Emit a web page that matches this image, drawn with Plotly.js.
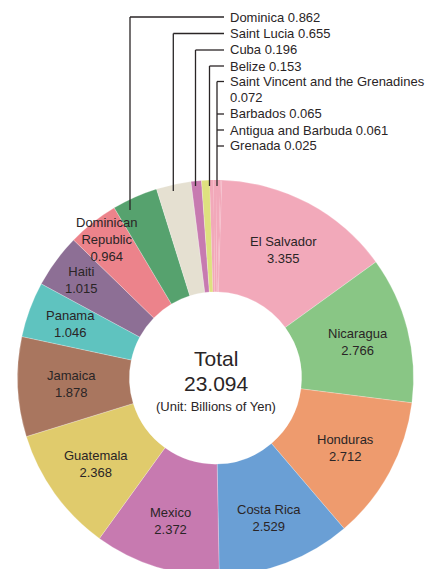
<!DOCTYPE html>
<html>
<head>
<meta charset="utf-8">
<script src="https://cdn.plot.ly/plotly-3.0.1.min.js"></script>
<style>
html,body{margin:0;padding:0;background:#fff;overflow:hidden;}
#chart{width:440px;height:580px;}
</style>
</head>
<body>
<div id="chart"></div>
<script>
// ---- data ----
var categories = ["El Salvador","Nicaragua","Honduras","Costa Rica","Mexico","Guatemala","Jamaica","Panama","Haiti","Dominican Republic","Dominica","Saint Lucia","Cuba","Belize","Saint Vincent and the Grenadines","Barbados","Antigua and Barbuda","Grenada"];
var values = [3.355,2.766,2.712,2.529,2.372,2.368,1.878,1.046,1.015,0.964,0.862,0.655,0.196,0.153,0.072,0.065,0.061,0.025];
var insideNames = ["El Salvador","Nicaragua","Honduras","Costa Rica","Mexico","Guatemala","Jamaica","Panama","Haiti","Dominican<br>Republic","","","","","","","",""];
var totalText = "23.094";
var calloutNames = ["Dominica","Saint Lucia","Cuba","Belize"];
var groupNames = ["Saint Vincent and the Grenadines","Barbados","Antigua and Barbuda","Grenada"];

// ---- style / layout settings ----
var colors = ["#F2A9BA","#89C685","#EE9B6E","#6A9FD5","#C77AB0","#E0CB6C","#A9765F","#5FC3BF","#8D6F95","#EC838B","#56A26E","#E5E0D1","#C77AB0","#DEE17F","#F2A9BA","#F2A9BA","#F2A9BA","#F2A9BA"];
var lineWidths = [0.4,0.4,0.4,0.4,0.4,0.4,0.4,0.4,0.4,0.4,0.4,0.4,0.4,0.4,0,0,0,0];
var labelRadius = [145,147,148,150,150,147,144,155,166,176,0,0,0,0,0,0,0,0];
var W = 440, H = 580;
var CX = 215.5, CY = 378, R = 198, ROT = 1.8;
function px(x){return x/W;}
function py(y){return (H-y)/H;}
var font = "Liberation Sans, Arial, sans-serif";
var ink = "#2a2526";

var trace = {
  type: "pie",
  labels: categories,
  values: values,
  sort: false,
  direction: "clockwise",
  rotation: ROT,
  hole: 0.435,
  textinfo: "none",
  marker: {colors: colors, line: {color: "rgba(255,255,255,0.6)", width: lineWidths}},
  domain: {x: [px(CX - R), px(CX + R)], y: [py(CY + R), py(CY - R)]},
  showlegend: false,
  hoverinfo: "label+value"
};

var annotations = [
  {text: "Total", x: px(216), y: py(358), font: {size: 21}},
  {text: totalText, x: px(216), y: py(383), font: {size: 21}},
  {text: "(Unit: Billions of Yen)", x: px(216), y: py(406), font: {size: 13}}
];
annotations.forEach(function(a){ a.xref="paper"; a.yref="paper"; a.showarrow=false; a.xanchor="center"; a.yanchor="middle"; a.font.family=font; a.font.color=ink; });

// slice labels at the mid angle of each slice
var total = values.reduce(function(s,v){return s+v;},0);
var cum = 0;
values.forEach(function(v,i){
  var mid = (cum + v/2) / total * 360 + ROT;
  cum += v;
  if (!insideNames[i]) return;
  var a = mid * Math.PI / 180;
  var r = labelRadius[i];
  annotations.push({
    text: insideNames[i] + "<br>" + values[i].toFixed(3),
    x: px(CX + r*Math.sin(a)), y: py(CY - r*Math.cos(a)),
    xref:"paper", yref:"paper", showarrow:false, xanchor:"center", yanchor:"middle",
    font:{family:font, size:13, color:ink}
  });
});

var shapes = [];
var lineStyle = {color: ink, width: 1.3};
var calloutX = [130, 173.3, 195.5, 209.5];
var calloutTop = [17, 33.5, 50, 66];
var calloutBottom = [210, 191, 186, 186];
calloutNames.forEach(function(n, k){
  var idx = categories.indexOf(n);
  shapes.push({type:"line", xref:"paper", yref:"paper", x0:px(calloutX[k]), x1:px(calloutX[k]), y0:py(calloutBottom[k]), y1:py(calloutTop[k]), line: lineStyle});
  shapes.push({type:"line", xref:"paper", yref:"paper", x0:px(calloutX[k]), x1:px(224), y0:py(calloutTop[k]), y1:py(calloutTop[k]), line: lineStyle});
  annotations.push({text: n + " " + values[idx].toFixed(3), x: px(228), y: py(calloutTop[k]), xref:"paper", yref:"paper", showarrow:false, xanchor:"left", yanchor:"middle", font:{family:font, size:13, color:ink}});
});
var gx = 217;
var gY = [81.5, 114, 130, 146];
shapes.push({type:"line", xref:"paper", yref:"paper", x0:px(gx), x1:px(gx), y0:py(186), y1:py(81.5), line: lineStyle});
groupNames.forEach(function(n, k){
  var idx = categories.indexOf(n);
  shapes.push({type:"line", xref:"paper", yref:"paper", x0:px(gx), x1:px(224), y0:py(gY[k]), y1:py(gY[k]), line: lineStyle});
  if (k === 0) {
    annotations.push({text: n, x: px(228), y: py(gY[k]), xref:"paper", yref:"paper", showarrow:false, xanchor:"left", yanchor:"middle", font:{family:font, size:13, color:ink}});
    annotations.push({text: values[idx].toFixed(3), x: px(228), y: py(97.8), xref:"paper", yref:"paper", showarrow:false, xanchor:"left", yanchor:"middle", font:{family:font, size:13, color:ink}});
  } else {
    annotations.push({text: n + " " + values[idx].toFixed(3), x: px(228), y: py(gY[k]), xref:"paper", yref:"paper", showarrow:false, xanchor:"left", yanchor:"middle", font:{family:font, size:13, color:ink}});
  }
});

var layout = {
  width: W, height: H,
  margin: {l:0, r:0, t:0, b:0},
  paper_bgcolor: "#ffffff",
  plot_bgcolor: "#ffffff",
  annotations: annotations,
  shapes: shapes,
  font: {family: font}
};

Plotly.newPlot("chart", [trace], layout, {displayModeBar: false, staticPlot: true});
</script>
</body>
</html>
